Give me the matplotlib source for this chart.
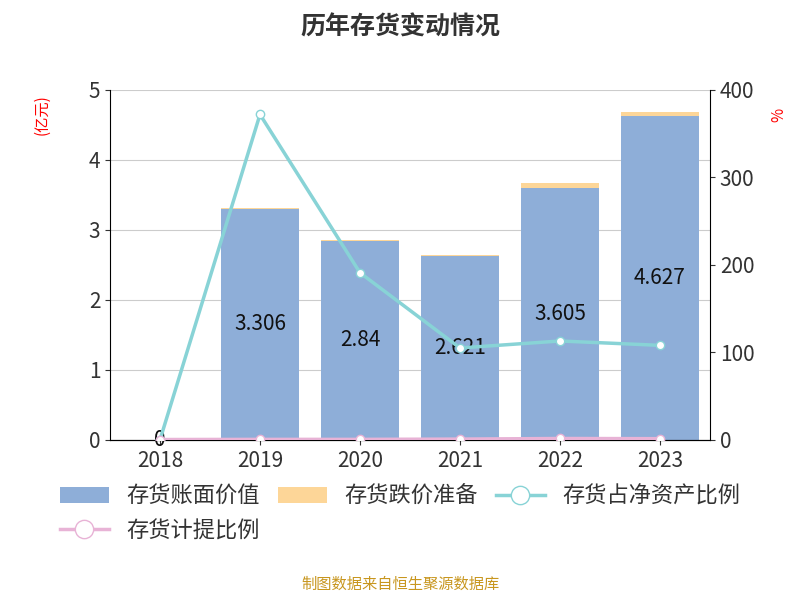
import matplotlib.pyplot as plt
import numpy as np

plt.rcParams['font.family'] = ['Noto Sans CJK SC', 'DejaVu Sans']

years = ['2018', '2019', '2020', '2021', '2022', '2023']
book_value = [0, 3.306, 2.84, 2.621, 3.605, 4.627]
reserve = [0, 0.01, 0.01, 0.02, 0.06, 0.06]
inv_net_ratio = [0, 372, 191, 105, 113, 108]
provision_ratio = [0.3, 0.5, 0.5, 0.8, 1.5, 1.3]
labels = ['0', '3.306', '2.84', '2.621', '3.605', '4.627']

fig = plt.figure(figsize=(8, 6), dpi=100)
ax = fig.add_axes([0.1375, 0.267, 0.75, 0.583])
x = np.arange(len(years))
ax.bar(x, book_value, width=0.78, color='#8eaed8', label='存货账面价值', zorder=2)
ax.bar(x, reserve, width=0.78, bottom=book_value, color='#fdd698', label='存货跌价准备', zorder=2)
for i, v in enumerate(book_value):
    ax.text(i, v / 2, labels[i], ha='center', va='center', fontsize=15, color='#111111', zorder=5)
ax.set_ylim(0, 5)
ax.set_xlim(-0.5, 5.5)
ax.set_yticks(range(6))
ax.set_xticks(x)
ax.set_xticklabels(years)
ax.tick_params(labelsize=15, colors='#333333')
ax.grid(axis='y', color='#cccccc', zorder=0)
for s in ['top', 'right']:
    ax.spines[s].set_visible(False)
ax.set_ylabel('(亿元)', color='red', fontsize=11)
ax.yaxis.set_label_coords(-0.1, 0.93)

ax2 = ax.twinx()
ax2.plot(x, inv_net_ratio, color='#88d3d6', lw=2.5, marker='o', ms=6, mfc='white', mec='#88d3d6', label='存货占净资产比例', zorder=4)
ax2.plot(x, provision_ratio, color='#e8b3d6', lw=2.5, marker='o', ms=6, mfc='white', mec='#e8b3d6', label='存货计提比例', zorder=4)
ax2.set_ylim(0, 400)
ax2.set_yticks(range(0, 401, 100))
ax2.tick_params(labelsize=15, colors='#333333')
for s in ['top', 'left']:
    ax2.spines[s].set_visible(False)
ax2.set_ylabel('%', color='red', fontsize=11)
ax2.yaxis.set_label_coords(1.1, 0.93)

h1, l1 = ax.get_legend_handles_labels()
h2, l2 = ax2.get_legend_handles_labels()
handles = [h1[0], h2[1], h1[1], h2[0]]
names = [l1[0], l2[1], l1[1], l2[0]]
fig.legend(handles, names, loc='upper left', bbox_to_anchor=(0.05, 0.225), ncol=3,
           frameon=False, fontsize=16, handlelength=2.2, columnspacing=0.8,
           markerscale=2.2, labelcolor='#333333')

fig.suptitle('历年存货变动情况', fontsize=18, fontweight='bold', color='#333333', y=0.975)
fig.text(0.5, 0.018, '制图数据来自恒生聚源数据库', ha='center', fontsize=11, color='#c8961e')
fig.savefig('out.png', dpi=100)
